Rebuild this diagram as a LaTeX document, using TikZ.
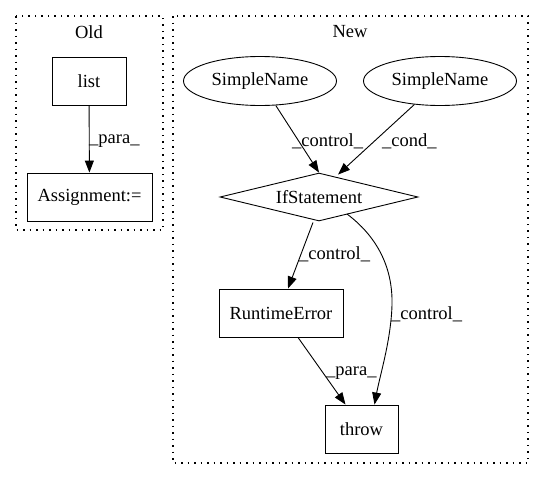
\documentclass[tikz,border=0pt]{standalone}
\usepackage{fontspec}
\setmainfont{Liberation Serif}
\usetikzlibrary{arrows.meta,shapes.geometric,calc}
\begin{document}
\begin{tikzpicture}[x=1pt,y=-1pt,
  every node/.style={font=\fontsize{18.5}{20}\selectfont, inner sep=0pt},
  box/.style={draw, line width=0.9pt, rectangle, minimum width=#1, minimum height=48pt},
  ell/.style={draw, line width=0.9pt, ellipse, minimum width=153pt, minimum height=49pt},
  dia/.style={draw, line width=0.9pt, diamond, aspect=4.1, minimum width=198pt, minimum height=48pt},
  clus/.style={draw, line width=1.3pt, dash pattern=on 1.5pt off 5pt},
  arr/.style={line width=0.9pt, -{Triangle[length=12pt,width=9pt]}},
  lab/.style={anchor=west}]
\useasboundingbox (0,0) rectangle (544,480);
% clusters
\draw[clus] (16,16) rectangle (163,230);
\node (old) at (89,32) {Old};
\draw[clus] (173,16) rectangle (528,463);
\node (new) at (350,32) {New};
% Old nodes
\node[box=74pt] (list) at (89,81) {list};
\node[box=125pt] (asg) at (89.5,197) {Assignment:=};
\draw[arr] (list) -- (asg);
\node[lab] (l1) at (89,141) {\_para\_};
% New nodes
\node[ell] (sn1) at (260,81) {SimpleName};
\node[ell] (sn2) at (440,81) {SimpleName};
\node[dia] (ifs) at (319,197) {IfStatement};
\node[box=124pt] (rte) at (281,313) {RuntimeError};
\node[box=73pt] (thr) at (361.5,429) {throw};
\draw[arr] (sn1) -- (ifs.north);
\node[lab] (l2) at (292,141) {\_control\_};
\draw[arr] (sn2) -- ($(ifs.north)+(19,2)$);
\node[lab] (l3) at (382,141) {\_cond\_};
\draw[arr] ($(ifs.south)+(-6,1)$) -- ($(rte.north)+(7,0)$);
\node[lab] (l4) at (299,254) {\_control\_};
\draw[arr] ($(rte.south)+(17,0)$) -- ($(thr.north)+(-16,0)$);
\node[lab] (l5) at (326,373) {\_para\_};
\coordinate (cmid) at (392,305);
\draw[arr] ($(ifs)+(28,17)$) .. controls (375,235) and (393,265) .. (cmid) .. controls (391,340) and (380,375) .. ($(thr.north)+(13,0)$);
\node[lab] (l6) at (391,314) {\_control\_};
\end{tikzpicture}
\end{document}
